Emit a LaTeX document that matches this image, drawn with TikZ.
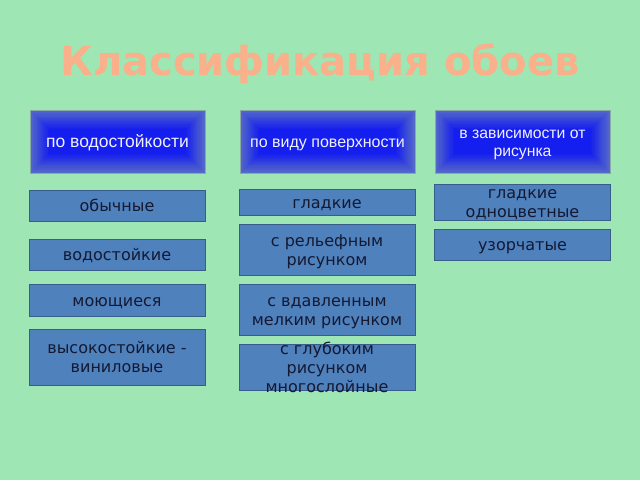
\documentclass[tikz,border=0pt]{standalone}
\usepackage{fontspec}
\setmainfont{DejaVu Sans}
\newfontfamily\hdrfont{Liberation Sans}
\definecolor{bg}{RGB}{158,230,180}
\definecolor{titlecol}{RGB}{250,176,138}
\definecolor{hdrcenter}{RGB}{20,30,238}
\definecolor{hdredge}{RGB}{85,105,200}
\definecolor{hdrborder}{RGB}{140,170,165}
\definecolor{leaf}{RGB}{79,129,189}
\definecolor{leafborder}{RGB}{56,93,138}
\definecolor{leaftext}{RGB}{20,25,50}
\newcommand\hdrshade[4]{%
  \foreach \i in {0,...,20} {
    \pgfmathtruncatemacro\p{min(100,\i*100/17)}
    \fill[hdrcenter!\p!hdredge] ({#1+\i*1.1},{#2+\i*1.1}) rectangle ({#3-\i*1.1},{#4-\i*1.1});
  }%
}
% top and bottom struts
\newcommand\tstr[1]{\rule{0pt}{#1}}
\newcommand\bstr[1]{\rule[-#1]{0pt}{#1}}
\newcommand\lt{\tstr{16pt}}
\newcommand\lb{\bstr{3.25pt}}
\tikzset{
  hdr/.style={draw=hdrborder, line width=1pt, minimum width=175pt, minimum height=63pt,
    inner sep=0pt, align=center, text={rgb,255:red,240;green,240;blue,255}},
  leafbox/.style={draw=leafborder, fill=leaf, line width=1pt, minimum width=176pt,
    inner sep=0pt, align=center, text=leaftext, font=\fontsize{16}{19}\selectfont},
}
\begin{document}
\begin{tikzpicture}[x=1pt,y=-1pt]
\fill[bg] (0,0) rectangle (640,480);
\useasboundingbox (0,0) rectangle (640,480);
\node[text=titlecol, font=\bfseries\fontsize{40}{46}\selectfont, anchor=base] (title) at (320,75.5) {Классификация обоев};

\hdrshade{30}{110}{205}{173}
\hdrshade{240}{110}{415}{173}
\hdrshade{435}{110}{610}{173}
\node[hdr, font=\hdrfont\fontsize{17.5}{20}\selectfont] (h1) at (117.5,141.5) {\tstr{16pt}по водостойкости\bstr{0.9pt}};
\node[hdr, font=\hdrfont\fontsize{16}{19}\selectfont] (h2) at (327.5,141.5) {\tstr{15pt}по виду поверхности\bstr{0.7pt}};
\node[hdr, font=\hdrfont\fontsize{15.75}{18}\selectfont] (h3) at (522.5,141.5) {\tstr{15pt}в зависимости от\\рисунка\bstr{0.8pt}};

\node[leafbox, minimum height=31pt] (a1) at (117,205.5) {\lt обычные\lb};
\node[leafbox, minimum height=31pt] (a2) at (117,254.5) {\lt водостойкие\lb};
\node[leafbox, minimum height=32pt] (a3) at (117,300) {\lt моющиеся\lb};
\node[leafbox, minimum height=56pt] (a4) at (117,357) {\lt высокостойкие -\\виниловые\lb};

\node[leafbox, minimum height=26pt] (b1) at (327,202) {\lt гладкие\lb};
\node[leafbox, minimum height=51pt] (b2) at (327,249.5) {\lt с рельефным\\рисунком\lb};
\node[leafbox, minimum height=51pt] (b3) at (327,309.5) {\lt с вдавленным\\мелким рисунком\lb};
\node[leafbox, minimum height=46pt, inner ysep=-5.7pt] (b4) at (327,367) {\lt с глубоким\\рисунком\\многослойные\lb};

\node[leafbox, minimum height=36pt, inner ysep=-1.2pt] (c1) at (522.5,202) {\lt гладкие\\одноцветные\lb};
\node[leafbox, minimum height=31pt] (c2) at (522.5,244.5) {\lt узорчатые\lb};
\end{tikzpicture}
\end{document}
